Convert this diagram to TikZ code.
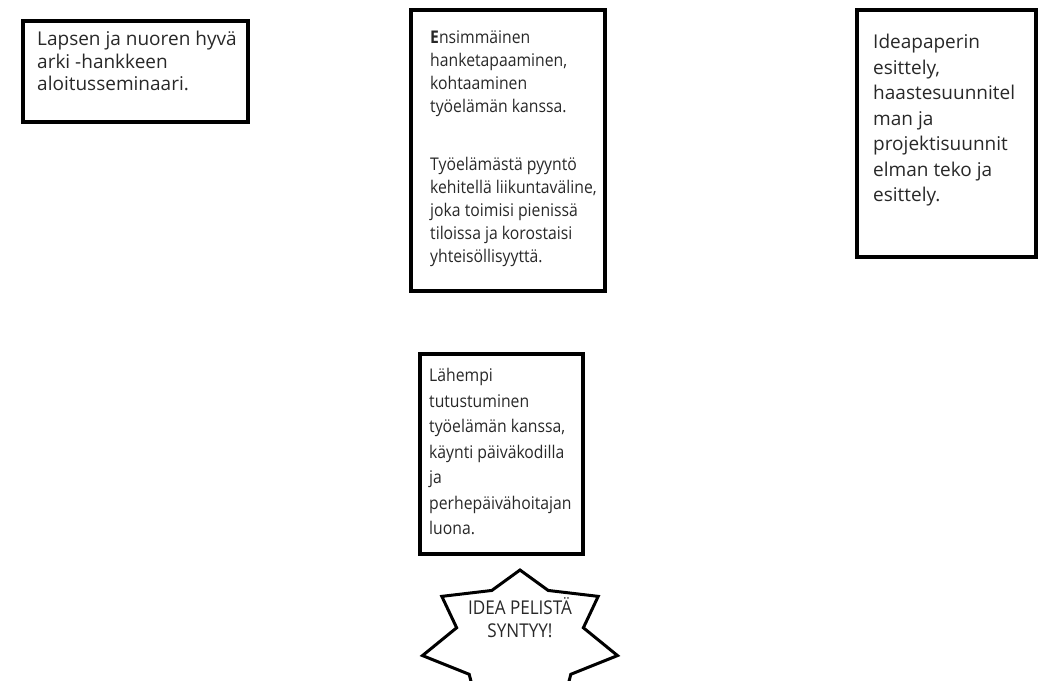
\documentclass[tikz,border=0pt]{standalone}
\usepackage{fontspec}
\setmainfont{Open Sans}
\newfontfamily\narrowsans{Open Sans}[FakeStretch=0.9]
\usetikzlibrary{positioning}
\definecolor{inkGrey}{RGB}{40,40,40}
\tikzset{
  frame/.style={draw=black,line width=3.5pt,anchor=north west,inner sep=0pt},
  words/.style={anchor=north west,align=left,inner sep=0pt,text=inkGrey},
  burst/.style={draw=black,line width=3pt,line join=miter,fill=white}
}
\begin{document}
\begin{tikzpicture}[x=1pt,y=-1pt]
\useasboundingbox (0,0) rectangle (1046,680);
\clip (0,0) rectangle (1046,680);
% top row
\node[frame,minimum width=225pt,minimum height=101pt] (kickoff) at (21,19) {};
\node[words,font=\fontsize{19}{22.5}\selectfont] (kickoffTxt) at (37,31)
  {Lapsen ja nuoren hyvä\\arki -hankkeen\\aloitusseminaari.};
\node[frame,minimum width=194pt,minimum height=281pt] (meeting) at (409,8) {};
\node[words,font=\narrowsans\fontsize{17.5}{23}\selectfont] (meetingTxt) at (430,30)
  {\textbf{E}nsimmäinen\\hanketapaaminen,\\kohtaaminen\\työelämän kanssa.\\[35pt]
   Työelämästä pyyntö\\kehitellä liikuntaväline,\\joka toimisi pienissä\\
   tiloissa ja korostaisi\\yhteisöllisyyttä.};
\node[frame,minimum width=179pt,minimum height=247pt] (idea) at (855,8) {};
\node[words,font=\fontsize{19}{25.5}\selectfont] (ideaTxt) at (873,34)
  {Ideapaperin\\esittely,\\haastesuunnitel\\man ja\\projektisuunnit\\elman teko ja\\esittely.};
% lower column
\node[frame,minimum width=163pt,minimum height=200pt] (visit) at (418,352) {};
\node[words,font=\narrowsans\fontsize{17.5}{25.5}\selectfont] (visitTxt) at (429,368)
  {Lähempi\\tutustuminen\\työelämän kanssa,\\käynti päiväkodilla\\ja\\perhepäivähoitajan\\luona.};
% the burst (seven points)
\draw[burst] (520,570) \foreach \i in {1,...,13}
  { -- ({520+ifthenelse(mod(\i,2)==0,100,65)*cos(90+180/7*\i)},
        {640-ifthenelse(mod(\i,2)==0,70,55)*sin(90+180/7*\i)}) } -- cycle;
\node[align=center,text=inkGrey,font=\narrowsans\fontsize{19}{23}\selectfont] (born) at (520,618)
  {IDEA PELISTÄ\\SYNTYY!};
\end{tikzpicture}
\end{document}
